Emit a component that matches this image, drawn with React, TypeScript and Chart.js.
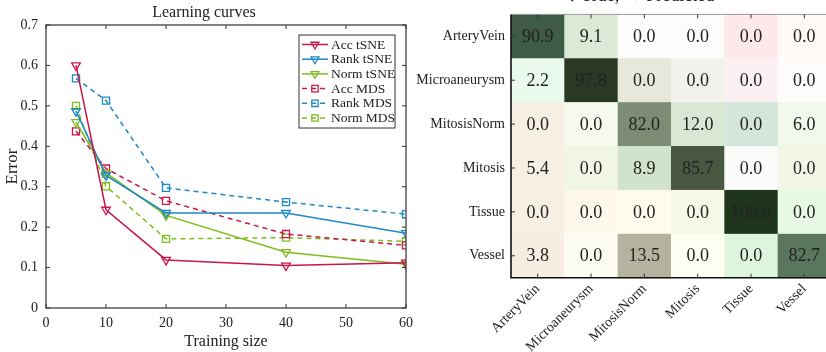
import React, { useEffect, useRef } from 'react';
import { Chart, registerables } from 'chart.js';
import { drawPoint } from 'chart.js/helpers';
Chart.register(...registerables);

// ---------- Data: learning curves ----------
const trainingSizes = [5, 10, 20, 40, 60];
const accTsne = [0.600, 0.243, 0.119, 0.105, 0.112];
const rankTsne = [0.487, 0.328, 0.235, 0.235, 0.185];
const normTsne = [0.460, 0.334, 0.229, 0.138, 0.108];
const accMds = [0.437, 0.345, 0.265, 0.183, 0.155];
const rankMds = [0.568, 0.513, 0.297, 0.262, 0.232];
const normMds = [0.500, 0.301, 0.171, 0.174, 0.165];
const seriesLabels = ['Acc tSNE', 'Rank tSNE', 'Norm tSNE', 'Acc MDS', 'Rank MDS', 'Norm MDS'];

// ---------- Data: confusion matrix ----------
const classes = ['ArteryVein', 'Microaneurysm', 'MitosisNorm', 'Mitosis', 'Tissue', 'Vessel'];
const confusion = [
  [90.9, 9.1, 0.0, 0.0, 0.0, 0.0],
  [2.2, 97.8, 0.0, 0.0, 0.0, 0.0],
  [0.0, 0.0, 82.0, 12.0, 0.0, 6.0],
  [5.4, 0.0, 8.9, 85.7, 0.0, 0.0],
  [0.0, 0.0, 0.0, 0.0, 100.0, 0.0],
  [3.8, 0.0, 13.5, 0.0, 0.0, 82.7],
];

// ---------- Styles ----------
const cellColors = [
  ['#3e5b45', '#dbe9d7', '#fefdfb', '#fefcfa', '#fde9ec', '#fef9f4'],
  ['#eafbee', '#2a3826', '#e7e7dc', '#f3f1ec', '#fdf0f3', '#fefcfa'],
  ['#f7efe4', '#f6f9ee', '#7d8c74', '#d9e8d5', '#d4e5da', '#f2f8eb'],
  ['#f7efe4', '#f1f5e6', '#d2e3cb', '#475740', '#fafcf9', '#f1f6e6'],
  ['#f7efe4', '#fef7ec', '#fcfbec', '#f5f7e8', '#1f341d', '#e7f9e5'],
  ['#f7ede2', '#fbfbf1', '#b4b3a0', '#fdfdf1', '#ddf5dc', '#5a775d'],
];
const RED = '#c8174b';
const BLUE = '#1e88c8';
const GREEN = '#7dbd1c';
const FONT = "'Liberation Serif', 'DejaVu Serif', serif";
const TEXT = '#222';

const seriesValues = [accTsne, rankTsne, normTsne, accMds, rankMds, normMds];
const seriesColors = [RED, BLUE, GREEN, RED, BLUE, GREEN];

const framePlugin = {
  id: 'frameLegend',
  afterDatasetsDraw(chart: any) {
    const { ctx, chartArea: a, scales } = chart;
    ctx.save();
    ctx.strokeStyle = '#333';
    ctx.lineWidth = 1.2;
    ctx.strokeRect(a.left, a.top, a.right - a.left, a.bottom - a.top);
    ctx.lineWidth = 1;
    const tl = 4;
    scales.x.ticks.forEach((t: any) => {
      const px = scales.x.getPixelForValue(t.value);
      ctx.beginPath();
      ctx.moveTo(px, a.bottom); ctx.lineTo(px, a.bottom - tl);
      ctx.moveTo(px, a.top); ctx.lineTo(px, a.top + tl);
      ctx.stroke();
    });
    scales.y.ticks.forEach((t: any) => {
      const py = scales.y.getPixelForValue(t.value);
      ctx.beginPath();
      ctx.moveTo(a.left, py); ctx.lineTo(a.left + tl, py);
      ctx.moveTo(a.right, py); ctx.lineTo(a.right - tl, py);
      ctx.stroke();
    });
    // legend
    const bx = a.right - 107, by = a.top + 10, bw = 96, bh = 93;
    ctx.fillStyle = '#fff';
    ctx.fillRect(bx, by, bw, bh);
    ctx.strokeStyle = '#333';
    ctx.lineWidth = 1;
    ctx.strokeRect(bx, by, bw, bh);
    chart.data.datasets.forEach((ds: any, i: number) => {
      const y = by + 9.5 + i * 14.7;
      ctx.strokeStyle = ds.borderColor;
      ctx.lineWidth = 1.5;
      ctx.setLineDash(ds.borderDash || []);
      ctx.beginPath();
      ctx.moveTo(bx + 3, y); ctx.lineTo(bx + 29, y);
      ctx.stroke();
      ctx.setLineDash([]);
      ctx.lineWidth = 1.3;
      ctx.fillStyle = 'rgba(255,255,255,0)';
      drawPoint(ctx, { pointStyle: ds.pointStyle, rotation: ds.pointRotation || 0, radius: 4.5, borderWidth: 1.3 } as any, bx + 16, y);
      ctx.fillStyle = TEXT;
      ctx.font = `13.5px ${FONT}`;
      ctx.textBaseline = 'middle';
      ctx.textAlign = 'left';
      ctx.fillText(ds.label, bx + 32, y + 0.5);
    });
    ctx.restore();
  },
};

const heatPlugin = {
  id: 'heat',
  beforeDatasetsDraw(chart: any) {
    const { ctx, chartArea: a, scales } = chart;
    const meta = chart.getDatasetMeta(0);
    const ds = chart.data.datasets[0];
    const w = (a.right - a.left) / classes.length;
    const h = (a.bottom - a.top) / classes.length;
    ctx.save();
    meta.data.forEach((el: any, k: number) => {
      const d = ds.data[k];
      ctx.fillStyle = cellColors[d.row][d.col];
      ctx.fillRect(el.x - w / 2, el.y - h / 2, w + 0.5, h + 0.5);
    });
    meta.data.forEach((el: any, k: number) => {
      const d = ds.data[k];
      ctx.fillStyle = TEXT;
      ctx.font = `18px ${FONT}`;
      ctx.textAlign = 'center';
      ctx.textBaseline = 'middle';
      ctx.fillText(d.v.toFixed(1), el.x, el.y + 1);
    });
    // frame
    ctx.strokeStyle = '#999';
    ctx.lineWidth = 1;
    ctx.beginPath();
    ctx.moveTo(a.left, a.top); ctx.lineTo(a.right, a.top);
    ctx.stroke();
    ctx.strokeStyle = '#111';
    ctx.lineWidth = 1.6;
    ctx.beginPath();
    ctx.moveTo(a.left, a.top); ctx.lineTo(a.left, a.bottom); ctx.lineTo(a.right, a.bottom);
    ctx.stroke();
    ctx.lineWidth = 1;
    ctx.strokeStyle = '#333';
    classes.forEach((_, i) => {
      const px = scales.x.getPixelForValue(i);
      const py = scales.y.getPixelForValue(i);
      ctx.beginPath();
      ctx.moveTo(px, a.bottom); ctx.lineTo(px, a.bottom - 4);
      ctx.moveTo(px, a.top); ctx.lineTo(px, a.top + 4);
      ctx.moveTo(a.left, py); ctx.lineTo(a.left + 4, py);
      ctx.stroke();
    });
    // clipped title
    ctx.fillStyle = TEXT;
    ctx.font = `18px ${FONT}`;
    ctx.textAlign = 'center';
    ctx.textBaseline = 'alphabetic';
    ctx.fillText('↓ True, → Predicted', (a.left + a.right) / 2 - 30, 1);
    ctx.restore();
  },
};

export default function App() {
  const leftRef = useRef<HTMLCanvasElement>(null);
  const rightRef = useRef<HTMLCanvasElement>(null);

  useEffect(() => {
    const left = new Chart(leftRef.current as HTMLCanvasElement, {
      type: 'line',
      data: {
        datasets: seriesLabels.map((label, i) => ({
          label,
          data: trainingSizes.map((x, j) => ({ x, y: seriesValues[i][j] })),
          borderColor: seriesColors[i],
          borderWidth: 1.5,
          borderDash: i >= 3 ? [5, 4] : [],
          pointStyle: i >= 3 ? 'rect' : 'triangle',
          pointRotation: i >= 3 ? 0 : 180,
          pointRadius: 5,
          pointBorderWidth: 1.3,
          pointBorderColor: seriesColors[i],
          pointBackgroundColor: 'rgba(255,255,255,0)',
          fill: false,
          tension: 0,
        })),
      } as any,
      options: {
        animation: false,
        responsive: false,
        devicePixelRatio: 1,
        layout: { padding: { top: 0, right: 12, left: 0, bottom: 0 } },
        plugins: {
          legend: { display: false },
          tooltip: { enabled: false },
          title: {
            display: true,
            text: 'Learning curves',
            color: TEXT,
            font: { family: FONT, size: 16, weight: 'normal' },
            padding: { top: 3.5, bottom: 2.3 },
          },
        },
        scales: {
          x: {
            type: 'linear',
            min: 0,
            max: 60,
            grid: { display: false, drawTicks: false },
            border: { display: false },
            ticks: { stepSize: 10, color: TEXT, font: { family: FONT, size: 14 }, padding: 7, maxRotation: 0 },
            title: { display: true, text: 'Training size', color: TEXT, font: { family: FONT, size: 16 }, padding: { top: 1, bottom: 0.7 } },
            afterFit: (s: any) => { s.height = 44; },
          },
          y: {
            type: 'linear',
            min: 0,
            max: 0.7,
            grid: { display: false, drawTicks: false },
            border: { display: false },
            ticks: {
              stepSize: 0.1,
              color: TEXT,
              font: { family: FONT, size: 14 },
              padding: 8,
              callback: (v: any) => (Math.abs(v) < 1e-9 ? '0' : Number(v).toFixed(1)),
            },
            title: { display: true, text: 'Error', color: TEXT, font: { family: FONT, size: 17 }, padding: { top: 2.5, bottom: 1 } },
            afterFit: (s: any) => { s.width = 46; },
          },
        },
      } as any,
      plugins: [framePlugin],
    });

    const cells: any[] = [];
    confusion.forEach((row, i) =>
      row.forEach((v, j) => cells.push({ x: classes[j], y: classes[i], v, row: i, col: j }))
    );

    const right = new Chart(rightRef.current as HTMLCanvasElement, {
      type: 'scatter',
      data: { datasets: [{ data: cells, pointRadius: 0, pointHoverRadius: 0 }] } as any,
      options: {
        animation: false,
        responsive: false,
        devicePixelRatio: 1,
        layout: { padding: { top: 6.5, right: 9, left: 0, bottom: 0 } },
        plugins: { legend: { display: false }, tooltip: { enabled: false } },
        scales: {
          x: {
            type: 'category',
            labels: classes,
            offset: true,
            grid: { display: false, drawTicks: false },
            border: { display: false },
            ticks: { color: TEXT, font: { family: FONT, size: 14 }, minRotation: 45, maxRotation: 45, padding: 3 },
            afterFit: (s: any) => { s.height = 74.3; },
          },
          y: {
            type: 'category',
            labels: classes,
            offset: true,
            grid: { display: false, drawTicks: false },
            border: { display: false },
            ticks: { color: TEXT, font: { family: FONT, size: 14 }, padding: 6 },
            afterFit: (s: any) => { s.width = 101; },
          },
        },
      } as any,
      plugins: [heatPlugin],
    });

    return () => {
      left.destroy();
      right.destroy();
    };
  }, []);

  return (
    <div style={{ position: 'fixed', left: 0, top: 0, width: 826, height: 352, overflow: 'hidden', background: '#fff' }}>
      <canvas ref={leftRef} width={420} height={352} style={{ position: 'absolute', left: 0, top: 0, display: 'block' }} />
      <canvas ref={rightRef} width={430} height={352} style={{ position: 'absolute', left: 410, top: 0, display: 'block' }} />
    </div>
  );
}
